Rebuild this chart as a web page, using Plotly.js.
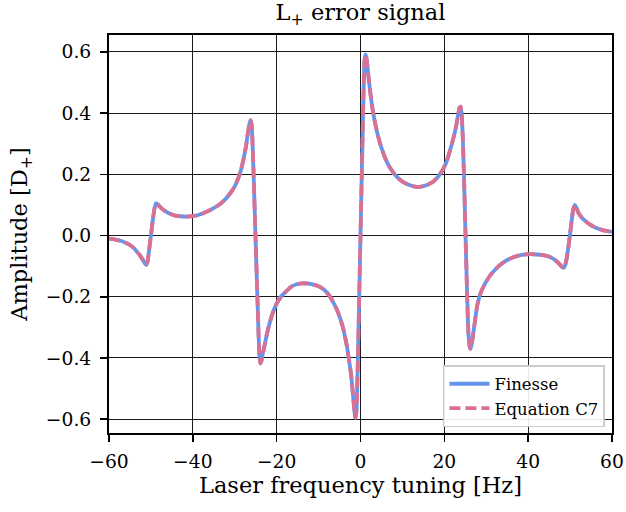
<!DOCTYPE html>
<html>
<head>
<meta charset="utf-8">
<script src="https://cdn.plot.ly/plotly-3.0.1.min.js"></script>
<style>html,body{margin:0;padding:0;background:#fff;}#chart{width:626px;height:512px;}</style>
</head>
<body>
<div id="chart"></div>
<script>
// Laser frequency tuning [Hz]
const freqHz = [
  -60, -58.5, -57, -56, -55, -54, -53.2, -52.5, -51.9, -51.5, -51.15, -50.85, -50.5, -50.0, -49.55, -49.15, -48.8,
  -48.4, -48, -47.4, -46.4, -45.4, -44.4, -43, -41.5, -40, -38.5, -37, -35.5, -34, -32.5, -31.3, -30.1, -29.3, -28.5, -27.9, -27.3, -26.9, -26.5, -26.2,
  -25.95, -25.75, -25.5, -25.06, -24.6, -24.3, -24.1, -23.9, -23.65, -23.3, -22.9, -22.3, -21.7, -21, -20.1, -19, -17.7, -16.5, -15.2, -13.8, -12.4, -11, -9.8, -8.6, -7.5, -6.6, -5.7, -5, -4.3, -3.7, -3.2, -2.7, -2.2, -1.8, -1.5, -1.3, -1.15, -0.95, -0.7, -0.35, 0,
  0.35, 0.7, 0.95, 1.15, 1.35, 1.6, 1.9, 2.3, 2.8, 3.3, 4, 4.8, 5.7, 6.6, 7.6, 8.8, 10, 11.5, 13, 14.5, 16, 17.3, 18.5, 19.6, 20.5, 21.3, 22.1, 22.8, 23.3, 23.65, 23.9,
  24.15, 24.4, 24.7, 25.06, 25.45, 25.75, 26.0, 26.2, 26.45, 26.8, 27.3, 27.9, 28.6, 29.5, 30.8, 32.2, 33.5, 35, 36.6, 38.5, 40.3, 42, 43.5, 44.6, 45.6, 46.5, 47.3, 47.9, 48.45,
  48.8, 49.15, 49.55, 49.95, 50.35, 50.75, 51.15, 51.5, 52, 52.6, 53.4, 54.5, 55.5, 56.6, 58, 60
];
// Amplitude [D+] from Finesse
const finesseAmp = [
  -0.010, -0.013, -0.018, -0.024, -0.031, -0.042, -0.055, -0.067, -0.080, -0.090, -0.096, -0.088, -0.055, 0.000, 0.050, 0.088, 0.105,
  0.102, 0.096, 0.088, 0.078, 0.071, 0.066, 0.063, 0.062, 0.063, 0.068, 0.076, 0.086, 0.098, 0.115, 0.134, 0.158, 0.182, 0.215, 0.250, 0.293, 0.332, 0.365, 0.377,
  0.360, 0.300, 0.200, 0.000, -0.200, -0.330, -0.395, -0.418, -0.410, -0.385, -0.360, -0.320, -0.287, -0.255, -0.225, -0.200, -0.182, -0.167, -0.159, -0.156, -0.157, -0.161, -0.167, -0.178, -0.195, -0.216, -0.240, -0.265, -0.295, -0.330, -0.365, -0.410, -0.460, -0.520, -0.565, -0.590, -0.595, -0.570, -0.450, -0.230, 0.000,
  0.230, 0.450, 0.570, 0.592, 0.585, 0.560, 0.520, 0.470, 0.420, 0.380, 0.335, 0.295, 0.260, 0.232, 0.210, 0.190, 0.176, 0.166, 0.160, 0.160, 0.166, 0.176, 0.192, 0.214, 0.240, 0.275, 0.315, 0.356, 0.395, 0.418, 0.421,
  0.395, 0.320, 0.190, 0.000, -0.200, -0.320, -0.360, -0.370, -0.360, -0.330, -0.280, -0.225, -0.190, -0.162, -0.133, -0.110, -0.094, -0.080, -0.070, -0.063, -0.061, -0.062, -0.064, -0.067, -0.073, -0.081, -0.091, -0.100, -0.106,
  -0.098, -0.078, -0.042, 0.000, 0.045, 0.085, 0.100, 0.091, 0.074, 0.062, 0.050, 0.038, 0.030, 0.023, 0.017, 0.012
];
// Amplitude [D+] from Equation C7 (overlaps Finesse)
const eqC7Amp = finesseAmp.slice();

const xTicks = [-60, -40, -20, 0, 20, 40, 60];
const yTicks = [-0.6, -0.4, -0.2, 0.0, 0.2, 0.4, 0.6];

const font = "DejaVu Serif";
const traces = [
  {x: freqHz, y: finesseAmp, name: "Finesse", mode: "lines",
   line: {color: "#6495ED", width: 3.8, shape: "spline", smoothing: 0.5}},
  {x: freqHz, y: eqC7Amp, name: "Equation C7", mode: "lines",
   line: {color: "#DB7093", width: 3.8, dash: "11px,5px", shape: "spline", smoothing: 0.5}}
];
const axisCommon = {
  showline: true, mirror: true, linecolor: "black", linewidth: 2,
  ticks: "outside", ticklen: 7, tickwidth: 1.5, tickcolor: "black",
  showgrid: true, gridcolor: "#1a1a1a", gridwidth: 1, zeroline: false,
  tickfont: {family: font, size: 18.7, color: "black"}
};
const layout = {
  width: 626, height: 512,
  margin: {l: 109, r: 14, t: 35, b: 79},
  paper_bgcolor: "white", plot_bgcolor: "white",
  font: {family: font, color: "black"},
  title: {text: "L<sub>+</sub> error signal", font: {family: font, size: 22.5, color: "black"},
          x: 0.5, xanchor: "center", xref: "paper", y: 0.976, yanchor: "middle"},
  xaxis: Object.assign({}, axisCommon, {
    range: [-60, 60], tickvals: xTicks, ticklabelstandoff: 4,
    title: {text: "Laser frequency tuning [Hz]", font: {family: font, size: 22.5, color: "black"}, standoff: 6}
  }),
  yaxis: Object.assign({}, axisCommon, {
    range: [-0.645, 0.655], tickvals: yTicks, tickformat: ".1f", ticklabelstandoff: 5,
    title: {text: "Amplitude [D<sub>+</sub>]", font: {family: font, size: 22.5, color: "black"}, standoff: 12}
  }),
  showlegend: true,
  legend: {x: 0.986, xanchor: "right", y: 0.015, yanchor: "bottom",
           bgcolor: "rgba(255,255,255,0.9)", bordercolor: "#cccccc", borderwidth: 1.5,
           font: {family: font, size: 16.5, color: "black"}, itemwidth: 40, tracegroupgap: 2}
};
Plotly.newPlot("chart", traces, layout, {displayModeBar: false, staticPlot: true});
</script>
</body>
</html>
